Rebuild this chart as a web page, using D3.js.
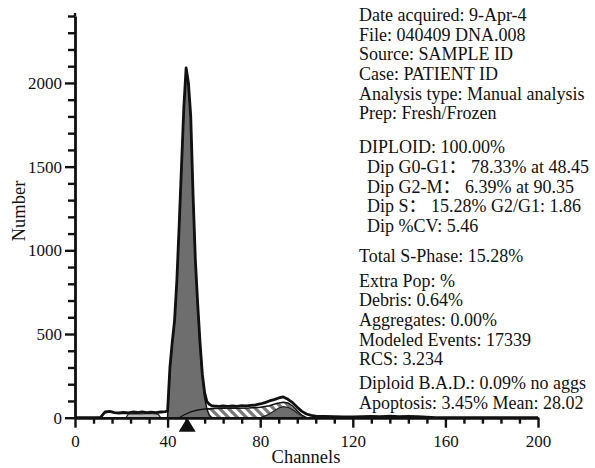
<!DOCTYPE html>
<html>
<head>
<meta charset="utf-8">
<script src="https://cdn.jsdelivr.net/npm/d3@7"></script>
<style>
  body { margin: 0; background: #fff; }
  svg { display: block; }
  text { font-family: "Liberation Serif", "Times New Roman", "Noto Sans CJK SC", serif; fill: #111; }
</style>
</head>
<body>
<svg id="graph"></svg>
<script>
//measured histogram (outline)
var outlineChannels = [0, 11, 12, 13, 15, 17, 19, 21, 23, 25, 27, 29, 31, 33, 35, 37, 39, 40,
    41, 42, 43, 44, 45, 46, 47, 48, 49, 50, 51, 52, 53, 54, 55, 56, 57, 58, 59, 60,
    62, 64, 66, 68, 70, 72, 74, 76, 78, 80, 82, 84, 86, 88, 90, 92, 94, 96, 98, 100,
    102, 104, 108, 112, 116, 120, 124, 128, 132, 136, 140, 144, 148, 152, 156, 200];
var outlineCounts = [0, 0, 18, 34, 38, 30, 28, 31, 29, 34, 31, 35, 30, 33, 30, 34, 36, 40,
    300, 450, 580, 820, 1150, 1500, 1850, 2090, 2000, 1800, 1330, 940, 680, 450, 260, 150, 95, 80, 72, 70,
    68, 70, 68, 70, 68, 72, 70, 74, 76, 82, 90, 100, 108, 118, 124, 110, 90, 62, 38, 22,
    14, 10, 8, 6, 5, 5, 6, 8, 7, 9, 7, 8, 6, 4, 0, 0];

//diploid G0-G1 model
var g1Channels = [40, 41, 42, 43, 44, 45, 46, 47, 48, 49, 50, 51, 52, 53, 54, 55, 56, 57, 58, 59];
var g1Counts = [0, 290, 440, 570, 810, 1140, 1490, 1840, 2080, 1990, 1790, 1320, 930, 670, 440, 240, 120, 50, 15, 0];

//diploid S-phase model
var sChannels = [45, 47, 50, 53, 56, 60, 65, 70, 75, 80, 84, 87, 90, 92, 94, 96, 98, 100];
var sCounts = [0, 16, 35, 46, 52, 55, 56, 57, 58, 62, 72, 85, 92, 88, 70, 40, 15, 0];

//diploid G2-M model
var g2Channels = [80, 83, 86, 88, 90, 92, 94, 96, 98, 100];
var g2Counts = [0, 15, 40, 58, 66, 62, 48, 28, 10, 0];

//debris
var debrisChannels = [22, 23, 26, 29, 32, 35, 36, 37];
var debrisCounts = [0, 22, 24, 23, 25, 22, 20, 0];

var g1Mean = 48.45;

//axis ticks
var xMajor = [0, 40, 80, 120, 160, 200];
var xMinor = [8, 16, 24, 32, 48, 56, 64, 72, 88, 96, 104, 112, 128, 136, 144, 152, 168, 176, 184, 192];
var yMajor = [0, 500, 1000, 1500, 2000];
var yMinor = [100, 200, 300, 400, 600, 700, 800, 900, 1100, 1200, 1300, 1400,
    1600, 1700, 1800, 1900, 2100, 2200, 2300, 2400];

//report text, one list per block
var infoLines = ["Date acquired: 9-Apr-4", "File: 040409 DNA.008", "Source: SAMPLE ID",
    "Case: PATIENT ID", "Analysis type: Manual analysis", "Prep: Fresh/Frozen"];
var diploidLines = ["DIPLOID: 100.00%", "Dip G0-G1\uff1a 78.33% at 48.45", "Dip G2-M\uff1a 6.39% at 90.35",
    "Dip S\uff1a 15.28% G2/G1: 1.86", "Dip %CV: 5.46"];
var sphaseLines = ["Total S-Phase: 15.28%"];
var extraLines = ["Extra Pop: %", "Debris: 0.64%", "Aggregates: 0.00%", "Modeled Events: 17339", "RCS: 3.234"];
var badLines = ["Diploid B.A.D.: 0.09% no aggs", "Apoptosis: 3.45% Mean: 28.02"];

var width = 595;
var height = 468;

var svg = d3.select("svg")
    .attr("width", width)
    .attr("height", height);

var xScale = d3.scaleLinear()
    .domain([0, 200])
    .range([75, 538]);
var yScale = d3.scaleLinear()
    .domain([0, 2400])
    .range([417.7, 16]);

//hatch for S-phase
var defs = svg.append("defs");
var pat = defs.append("pattern")
    .attr("id", "hatch")
    .attr("patternUnits", "userSpaceOnUse")
    .attr("width", 9)
    .attr("height", 9);
pat.append("rect")
    .attr("width", 9)
    .attr("height", 9)
    .attr("fill", "#fff");
pat.append("path")
    .attr("d", "M-2,-2 L11,11 M-2,7 L2,11 M7,-2 L11,2")
    .attr("stroke", "#7a7a7a")
    .attr("stroke-width", 3.2);

var zip = function(cs, vs)
{
    return cs.map(function(c, i) { return [c, vs[i]]; });
};

var area = d3.area()
    .x(function(d) { return xScale(d[0]); })
    .y0(yScale(0))
    .y1(function(d) { return yScale(d[1]); });

var line = d3.line()
    .x(function(d) { return xScale(d[0]); })
    .y(function(d) { return yScale(d[1]); });

//debris
svg.append("path")
    .attr("d", area(zip(debrisChannels, debrisCounts)))
    .attr("fill", "#b8b8b8")
    .attr("stroke", "#222")
    .attr("stroke-width", 1.2);

//S-phase
svg.append("path")
    .attr("d", area(zip(sChannels, sCounts)))
    .attr("fill", "url(#hatch)")
    .attr("stroke", "#111")
    .attr("stroke-width", 1.5);

//G2
svg.append("path")
    .attr("d", area(zip(g2Channels, g2Counts)))
    .attr("fill", "#6e6e6e")
    .attr("stroke", "#222")
    .attr("stroke-width", 1.2);

//G1
svg.append("path")
    .attr("d", area(zip(g1Channels, g1Counts)))
    .attr("fill", "#6e6e6e")
    .attr("stroke", "#111")
    .attr("stroke-width", 1.5);

//S line over G1
svg.append("path")
    .attr("d", line(zip(sChannels, sCounts).filter(function(d) { return d[0] <= 60; })))
    .attr("fill", "none")
    .attr("stroke", "#111")
    .attr("stroke-width", 1.3);

//histogram outline
svg.append("path")
    .attr("d", line(zip(outlineChannels, outlineCounts)))
    .attr("fill", "none")
    .attr("stroke", "#111")
    .attr("stroke-width", 2.8)
    .attr("stroke-linejoin", "round");

//axes
var styleAxis = function(g)
{
    g.attr("font-family", null)
        .attr("font-size", null);
    g.selectAll("path, line")
        .attr("stroke", "#111")
        .attr("stroke-width", 2.4);
    g.selectAll("text")
        .style("font-size", "17px");
};

svg.append("g")
    .attr("transform", "translate(0," + yScale(0) + ")")
    .call(d3.axisBottom(xScale).tickValues(xMinor).tickSize(6).tickSizeOuter(0).tickFormat(""))
    .call(styleAxis);
svg.append("g")
    .attr("transform", "translate(0," + yScale(0) + ")")
    .call(d3.axisBottom(xScale).tickValues(xMajor).tickSize(10).tickSizeOuter(0).tickPadding(7).tickFormat(d3.format("d")))
    .call(styleAxis);

svg.append("g")
    .attr("transform", "translate(" + xScale(0) + ",0)")
    .call(d3.axisLeft(yScale).tickValues(yMinor).tickSize(7).tickSizeOuter(0).tickFormat(""))
    .call(styleAxis);
svg.append("g")
    .attr("transform", "translate(" + xScale(0) + ",0)")
    .call(d3.axisLeft(yScale).tickValues(yMajor).tickSize(10).tickSizeOuter(0).tickPadding(3).tickFormat(d3.format("d")))
    .call(styleAxis);

//extend y axis line a bit above 2400
svg.append("line")
    .attr("x1", xScale(0)).attr("x2", xScale(0))
    .attr("y1", yScale(2400)).attr("y2", 13)
    .attr("stroke", "#111")
    .attr("stroke-width", 2.4);

//G1 marker
var mx = xScale(g1Mean);
var my = yScale(0);
svg.append("path")
    .attr("d", "M" + mx + "," + my + " L" + (mx + 8.5) + "," + (my + 14) + " L" + (mx - 8.5) + "," + (my + 14) + " Z")
    .attr("fill", "#111");

//axis titles
svg.append("text")
    .attr("transform", "translate(25,211) rotate(-90)")
    .attr("text-anchor", "middle")
    .style("font-size", "18.5px")
    .text("Number");
svg.append("text")
    .attr("x", 306)
    .attr("y", 463)
    .attr("text-anchor", "middle")
    .style("font-size", "18.5px")
    .text("Channels");

//report block
var step = 19.65;
var blocks = [
    {lines: infoLines, y: 21, indent: false},
    {lines: diploidLines, y: 153.3, indent: true},
    {lines: sphaseLines, y: 261.7, indent: false},
    {lines: extraLines, y: 286.7, indent: false},
    {lines: badLines, y: 389.3, indent: false}
];
blocks.forEach(function(b)
{
    svg.append("g")
        .selectAll("text")
        .data(b.lines)
        .enter()
        .append("text")
        .attr("x", function(d, i) { return (b.indent && i > 0) ? 367 : 359; })
        .attr("y", function(d, i) { return b.y + i * step; })
        .style("font-size", "18px")
        .text(function(d) { return d; });
});
</script>
</body>
</html>
